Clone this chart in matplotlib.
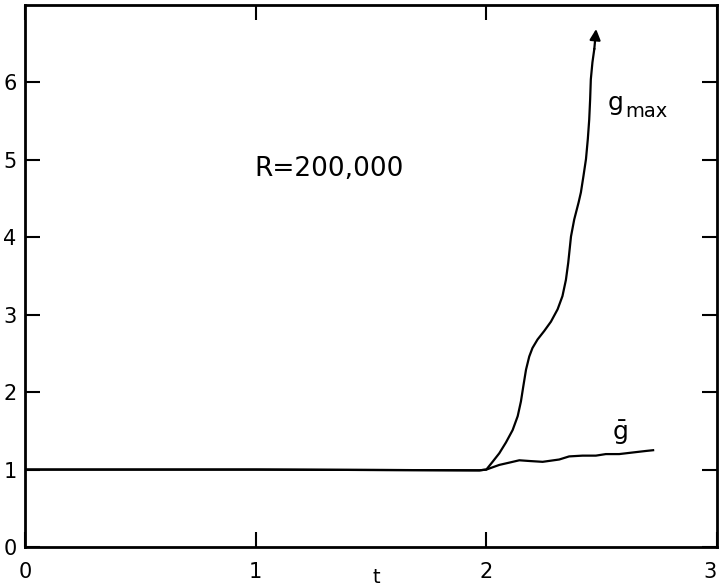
"""Growth of g_max and mean g against t for R = 200,000."""

import matplotlib.pyplot as plt

# g_max: departs from 1 at t = 2 and grows rapidly
t_max = [0.0, 1.0, 1.97, 2.0, 2.027, 2.056, 2.085, 2.114, 2.136, 2.150,
         2.160, 2.172, 2.186, 2.200, 2.222, 2.251, 2.280, 2.309, 2.330,
         2.345, 2.355, 2.367, 2.381, 2.400, 2.410, 2.421, 2.432, 2.440,
         2.446, 2.450, 2.453, 2.460, 2.468, 2.476]
g_max = [1.0, 1.0, 0.99, 1.0, 1.10, 1.21, 1.35, 1.51, 1.69, 1.88,
         2.07, 2.29, 2.46, 2.57, 2.68, 2.79, 2.91, 3.07, 3.24,
         3.45, 3.67, 4.01, 4.23, 4.45, 4.58, 4.79, 5.01, 5.27,
         5.52, 5.78, 6.04, 6.26, 6.43, 6.69]

# mean g: stays close to 1 with a slow rise after t = 2
t_bar = [0.0, 1.0, 1.97, 2.0, 2.056, 2.10, 2.143, 2.190, 2.244, 2.316,
         2.359, 2.417, 2.475, 2.518, 2.576, 2.633, 2.691, 2.723]
g_bar = [1.0, 1.0, 0.99, 1.0, 1.06, 1.09, 1.12, 1.11, 1.10, 1.13,
         1.17, 1.18, 1.18, 1.20, 1.20, 1.22, 1.24, 1.25]

x_ticks = [0, 1, 2, 3]
y_ticks = [0, 1, 2, 3, 4, 5, 6]

fig = plt.figure(figsize=(7.19, 5.87), dpi=100)
ax = fig.add_axes([25 / 719, 40 / 587, 692 / 719, 542 / 587])

ax.plot(t_bar, g_bar, color="black", linewidth=1.6)
ax.plot(t_max[:-1], g_max[:-1], color="black", linewidth=1.6)
ax.annotate(
    "",
    xy=(t_max[-1], g_max[-1]),
    xytext=(t_max[-2], g_max[-2]),
    arrowprops=dict(arrowstyle="-|>", color="black", lw=1.6,
                    mutation_scale=16, shrinkA=0, shrinkB=0),
)

ax.set_xlim(0, 3)
ax.set_ylim(0, 7)
ax.set_xticks(x_ticks)
ax.set_yticks(y_ticks)
ax.set_xticklabels([str(v) for v in x_ticks])
ax.set_yticklabels([str(v) for v in y_ticks])
ax.tick_params(axis="both", direction="in", length=11, width=1.5,
               labelsize=15, top=True, right=True)
ax.tick_params(axis="x", pad=11)
ax.tick_params(axis="y", pad=6)
# last x label sits at the figure edge, keep it inside
ax.get_xticklabels()[-1].set_horizontalalignment("right")
for spine in ax.spines.values():
    spine.set_linewidth(2.0)

ax.set_xlabel("t", fontsize=14)
ax.xaxis.set_label_coords(0.507, -0.038)

ax.text(1.32, 4.88, "R=200,000", fontsize=19, ha="center", va="center")
ax.text(2.525, 5.74, "g", fontsize=18, ha="left", va="center")
ax.text(2.603, 5.62, "max", fontsize=14, ha="left", va="center")
ax.text(2.58, 1.47, r"$\bar{\mathrm{g}}$", fontsize=18, ha="center", va="center")

fig.savefig("out.png", dpi=100)
plt.close(fig)
